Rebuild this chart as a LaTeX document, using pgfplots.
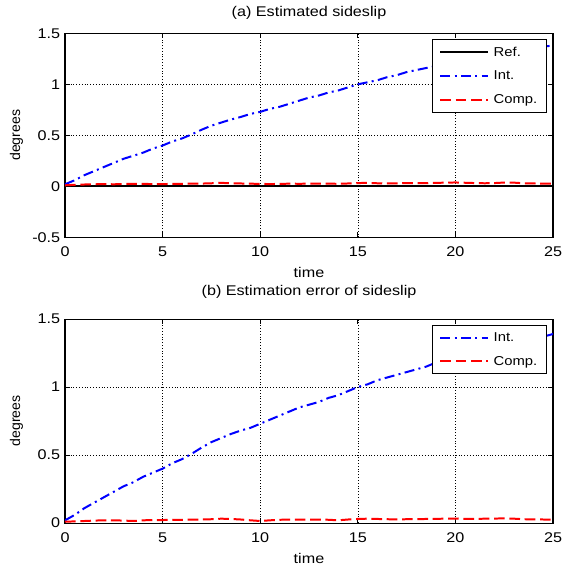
\documentclass[border=0pt]{standalone}
\usepackage{pgfplots}
\pgfplotsset{compat=1.18}
\usepackage{fontspec}
\setmainfont{Liberation Sans}[FakeStretch=1.15]
\newfontfamily\ylfont{Liberation Sans}
\pgfplotstableread{
t v
0 0.02
0.5 0.06
1 0.11
1.5 0.15
2 0.19
2.5 0.23
3 0.27
3.5 0.30
4 0.33
4.5 0.37
5 0.40
5.5 0.44
6 0.47
6.5 0.51
7 0.555
7.5 0.595
8 0.625
8.5 0.655
9 0.68
9.5 0.71
10 0.73
10.5 0.76
11 0.78
11.5 0.81
12 0.84
12.5 0.87
13 0.89
13.5 0.92
14 0.94
14.5 0.97
15 1.00
15.5 1.02
16 1.04
16.5 1.07
17 1.09
17.5 1.12
18 1.14
18.5 1.16
19 1.18
19.5 1.20
20 1.22
20.5 1.24
21 1.26
21.5 1.28
22 1.30
22.5 1.32
23 1.33
23.5 1.35
24 1.36
24.5 1.37
25 1.38
}\inttable
\pgfplotstableread{
t v
0 0.01
0.5 0.015
1 0.018
1.5 0.02
2 0.022
2.5 0.02
3 0.023
3.5 0.025
4 0.024
4.5 0.022
5 0.022
5.5 0.024
6 0.025
6.5 0.026
7 0.027
7.5 0.03
8 0.034
8.5 0.03
9 0.028
9.5 0.026
10 0.024
10.5 0.022
11 0.024
11.5 0.026
12 0.025
12.5 0.026
13 0.027
13.5 0.026
14 0.025
14.5 0.028
15 0.032
15.5 0.034
16 0.03
16.5 0.029
17 0.03
17.5 0.031
18 0.03
18.5 0.032
19 0.034
19.5 0.036
20 0.038
20.5 0.035
21 0.032
21.5 0.03
22 0.032
22.5 0.037
23 0.036
23.5 0.03
24 0.028
24.5 0.027
25 0.026
}\comptable
\pgfplotstableread{
t v
0 0.02
0.5 0.06
1 0.11
1.5 0.15
2 0.19
2.5 0.23
3 0.27
3.5 0.30
4 0.34
4.5 0.37
5 0.40
5.5 0.44
6 0.47
6.5 0.51
7 0.555
7.5 0.595
8 0.625
8.5 0.655
9 0.68
9.5 0.70
10 0.73
10.5 0.76
11 0.79
11.5 0.82
12 0.85
12.5 0.87
13 0.89
13.5 0.92
14 0.94
14.5 0.97
15 1.00
15.5 1.02
16 1.05
16.5 1.07
17 1.09
17.5 1.11
18 1.13
18.5 1.15
19 1.18
19.5 1.20
20 1.22
20.5 1.24
21 1.26
21.5 1.28
22 1.30
22.5 1.32
23 1.34
23.5 1.35
24 1.36
24.5 1.37
25 1.39
}\interrtable
\pgfplotstableread{
t v
0 0.01
0.5 0.012
1 0.015
1.5 0.018
2 0.02
2.5 0.02
3 0.018
3.5 0.015
4 0.02
4.5 0.022
5 0.022
5.5 0.024
6 0.024
6.5 0.025
7 0.026
7.5 0.028
8 0.032
8.5 0.03
9 0.026
9.5 0.02
10 0.015
10.5 0.02
11 0.024
11.5 0.025
12 0.026
12.5 0.025
13 0.026
13.5 0.024
14 0.02
14.5 0.026
15 0.03
15.5 0.032
16 0.03
16.5 0.028
17 0.027
17.5 0.028
18 0.028
18.5 0.03
19 0.031
19.5 0.032
20 0.033
20.5 0.03
21 0.03
21.5 0.032
22 0.033
22.5 0.034
23 0.032
23.5 0.028
24 0.027
24.5 0.026
25 0.025
}\comperrtable
\begin{document}
\begin{tikzpicture}
\pgfplotsset{
  mstyle/.style={
    scale only axis, width=14.64cm, height=6.12cm,
    xmin=0, xmax=25, xtick={0,5,10,15,20,25},
    grid=major, grid style={black, line width=0.5pt, dash pattern=on 0.8pt off 1.6pt},
    tick align=inside, tick style={black, line width=0.6pt}, major tick length=0.15cm,
    axis line style={black, line width=0.9pt},
    xlabel={time}, ylabel={\ylfont degrees},
    /pgf/number format/assume math mode=true,
    yticklabel style={/pgf/number format/fixed, xshift=-0.02cm},
    xticklabel style={yshift=-0.16cm},
    tick label style={font=\fontsize{12}{14}\selectfont},
    label style={font=\fontsize{12}{14}\selectfont},
    title style={font=\fontsize{12}{14}\selectfont, at={(axis description cs:0.5,1)}, anchor=center},
    xlabel style={at={(axis description cs:0.5,-0.1716)}, anchor=center},
    ylabel style={at={(axis description cs:-0.0994,0.5)}, anchor=center, font=\fontsize{12}{14}\selectfont},
    legend cell align=left,
    legend style={at={(rel axis cs:0.987,0.971)}, anchor=north east, draw=black, line width=0.9pt,
      font=\fontsize{11}{13}\selectfont, row sep=7pt, column sep=2pt, inner xsep=5.5pt, inner ysep=4pt},
    legend image code/.code={\draw[##1] (0cm,0cm) -- (1.43cm,0cm);},
  },
  intstyle/.style={blue, line width=1.7pt, dash pattern=on 0.3cm off 0.13cm on 0.06cm off 0.13cm},
  compstyle/.style={red, line width=1.7pt, dash pattern=on 0.32cm off 0.14cm},
}
\path[use as bounding box] (-1.95cm,1.0cm) rectangle (14.91cm,-16.07cm);
\begin{axis}[mstyle, at={(0,0)}, anchor=north west,
  ymin=-0.5, ymax=1.5, ytick={-0.5,0,0.5,1,1.5},
  yticklabels={-0.5,0,0.5,1,1.5},
  title={(a) Estimated sideslip}, title style={yshift=0.39cm}]
\addplot[black, line width=1.7pt] coordinates {(0,0) (25,0)};
\addlegendentry{Ref.}
\addplot[intstyle] table[x=t,y=v] {\inttable};
\addlegendentry{Int.}
\addplot[compstyle] table[x=t,y=v] {\comptable};
\addlegendentry{Comp.}
\end{axis}
\begin{axis}[mstyle, at={(0,-8.571cm)}, anchor=north west,
  ymin=0, ymax=1.5, ytick={0,0.5,1,1.5},
  yticklabels={0,0.5,1,1.5},
  title={(b) Estimation error of sideslip}, title style={yshift=0.6cm}]
\addplot[intstyle] table[x=t,y=v] {\interrtable};
\addlegendentry{Int.}
\addplot[compstyle] table[x=t,y=v] {\comperrtable};
\addlegendentry{Comp.}
\end{axis}
\end{tikzpicture}
\end{document}
